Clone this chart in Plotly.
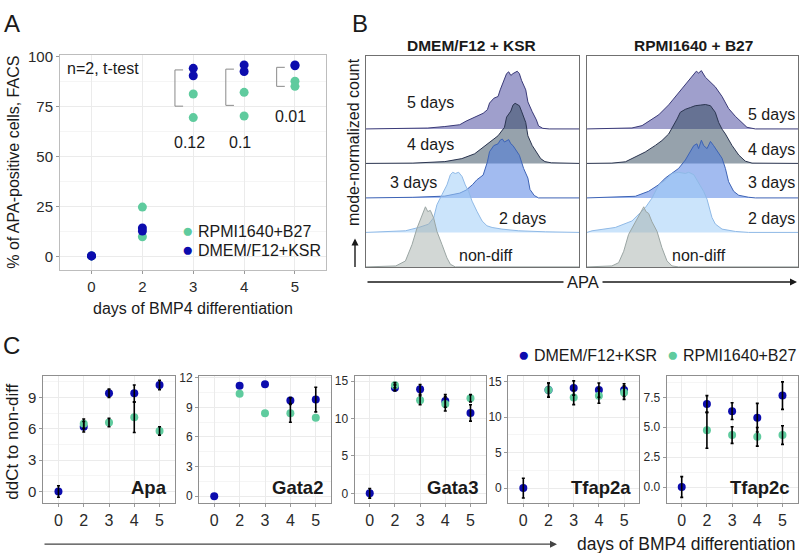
import numpy as np
import plotly.graph_objects as go

W, H = 800, 553
FONT = 'Liberation Sans, Arial, Helvetica, sans-serif'
INK = '#1a1a1a'
BLUE = '#0c0cae'
GREEN = '#5fcb9e'

# ---------------- A: % APA-positive cells (FACS), two replicates per day
days_a = ['0', '0', '2', '2', '3', '3', '4', '4', '5', '5']
dmem_a = [0.3, 0.3, 14.3, 12.7, 94.0, 90.3, 95.7, 92.4, 95.7, 95.3]
rpmi_a = [0.3, 0.3, 24.7, 9.9, 81.2, 69.4, 82.0, 70.2, 87.6, 85.0]
pval_days = ['3', '4', '5']
pval_text = ['0.12', '0.1', '0.01']
bracket_top = [93.2, 93.6, 94.5]
bracket_bottom = [75.1, 75.5, 85.0]

# ---------------- B: APA histograms, mode-normalized count (% of mode)
rows_b = ['non-diff', '2 days', '3 days', '4 days', '5 days']

dmem_nd_x = [0, 6, 14, 18.5, 21.6, 23.9, 26.3, 27.9, 29, 30.2, 31.8, 33.3, 35.7, 38, 39.6, 41.9, 100]
dmem_nd_y = [0, 0.5, 1.6, 9.8, 37, 64, 86, 100, 92, 94, 81, 59, 37, 15, 4.4, 0, 0]
dmem_2d_x = [0, 13.8, 18.5, 24.7, 29.4, 31.8, 33.3, 35.7, 38, 39.6, 40.7, 41.9, 43.5, 45.1, 46.6, 48.2,
             49.8, 52.1, 54.5, 56.8, 59.2, 63.8, 71.7, 84.2, 100]
dmem_2d_y = [0, 1.6, 2.7, 8.2, 13.7, 24.6, 46, 63, 79, 96, 100, 98, 100, 93, 79, 68,
             52, 35, 19, 11, 8.2, 5.5, 2.7, 1, 0]
dmem_3d_x = [0, 22, 37, 44, 47, 50, 52, 55, 57, 58, 60, 62, 63, 64, 65, 67, 68, 69, 72, 74, 76, 77, 79, 81, 100]
dmem_3d_y = [0, 1, 3, 8, 13, 22, 30, 38, 60, 77, 87, 90, 96, 98, 93, 97, 90, 87, 71, 49, 33, 14, 4, 0, 0]
dmem_4d_x = [0, 22, 37, 45, 51, 56, 59, 62, 65, 66, 68, 69, 70, 72, 73, 75, 76, 78, 80, 82, 84, 87, 100]
dmem_4d_y = [0, 0.5, 3, 8, 16, 30, 38, 46, 60, 77, 87, 97, 100, 96, 87, 68, 46, 30, 19, 8, 3, 1, 0]
dmem_5d_x = [0, 22, 29, 37, 44, 47, 51, 55, 57, 58, 60, 62, 63, 65, 66, 67, 68, 69, 71, 72, 73, 75, 76, 78,
             80, 81, 83, 86, 100]
dmem_5d_y = [0, 0.5, 1.5, 4, 7, 13, 20, 26, 32, 43, 51, 54, 65, 81, 92, 95, 89, 92, 96, 92, 81, 65, 45, 29,
             15, 5, 1, 0, 0]

rpmi_nd_x = [0, 11.8, 15, 17.4, 19.7, 22.9, 25.3, 26.9, 27.9, 29.2, 30.8, 33.2, 35.5, 37.9, 40.3, 43.4, 100]
rpmi_nd_y = [0, 1.6, 7, 26, 54, 75, 92, 100, 92, 89, 75, 59, 32, 10, 1.6, 0, 0]
rpmi_2d_x = [0, 2.4, 13.4, 21.3, 27.6, 30.8, 34, 37.1, 40.3, 43.4, 46.6, 48.2, 50.6, 52.1, 53.7, 55.3,
             56.9, 59.2, 60.8, 64, 70.3, 76.6, 100]
rpmi_2d_y = [0, 2.7, 8.2, 19, 41, 57, 79, 87, 98, 100, 98, 100, 96, 87, 79, 68,
             55, 25, 14, 5.5, 1.6, 0, 0]
rpmi_3d_x = [0, 22.9, 29.2, 34, 37.1, 40.3, 43.4, 46.6, 49, 50.6, 52.1, 52.9, 54.2, 55.3, 56.9, 58.5,
             60, 61.6, 64, 65.6, 67.1, 69.5, 71.9, 76.6, 79.8, 100]
rpmi_3d_y = [0, 2.7, 11, 22, 33, 41, 49, 63, 77, 87, 90, 82, 96, 87, 82, 94,
             87, 79, 66, 49, 27, 11, 4.4, 1.1, 0, 0]
rpmi_4d_x = [0, 11.8, 18.2, 22.9, 27.6, 32.4, 35.5, 38.7, 41.1, 42.7, 44.2, 46.6, 49, 51.3, 53.7, 56.1,
             58.5, 60.8, 62.4, 64, 65.6, 68.7, 71.9, 75, 78.2, 100]
rpmi_4d_y = [0, 0.5, 2.7, 11, 19, 30, 38, 49, 63, 74, 85, 90, 93, 96, 97, 98,
             96, 85, 68, 57, 49, 30, 14, 3.8, 0.5, 0]
rpmi_5d_x = [0, 16.6, 21.3, 26.1, 29.2, 34, 38.7, 41.9, 45, 48.2, 50.6, 51.8, 52.9, 54.2, 56.1, 58.5,
             60.8, 64, 67.1, 70.3, 73.5, 75.8, 79.8, 100]
rpmi_5d_y = [0, 0.5, 1.6, 5.5, 12.6, 23.5, 40, 54, 67, 81, 92, 96, 93, 97, 86, 78,
             70, 54, 34, 21, 10, 2.7, 0, 0]

# ---------------- C: qPCR ddCt to non-diff (mean, sd; None = no visible bar)
days_c = ['0', '2', '3', '4', '5']
genes = ['Apa', 'Gata2', 'Gata3', 'Tfap2a', 'Tfap2c']

apa_dmem = [0, 6.2, 9.4, 9.4, 10.2]
apa_dmem_sd = [0.55, 0.5, 0.4, 0.8, 0.45]
apa_rpmi = [None, 6.5, 6.6, 7.1, 5.8]
apa_rpmi_sd = [None, 0.45, 0.4, 1.45, 0.4]

gata2_dmem = [0, 11.2, 11.35, 9.7, 9.8]
gata2_dmem_sd = [None, None, None, 0.3, 1.25]
gata2_rpmi = [None, 10.4, 8.4, 8.4, 7.95]
gata2_rpmi_sd = [None, None, None, 0.9, None]

gata3_dmem = [0, 14.1, 13.9, 12.35, 10.75]
gata3_dmem_sd = [0.65, 0.4, 0.65, 0.85, 1.1]
gata3_rpmi = [None, 14.45, 12.45, 11.95, 12.7]
gata3_rpmi_sd = [None, 0.35, 0.6, 0.95, 0.5]

tfap2a_dmem = [0, 13.8, 14.1, 13.8, 13.8]
tfap2a_dmem_sd = [1.4, 1.0, 1.0, 1.0, 0.9]
tfap2a_rpmi = [None, 13.8, 12.75, 13.0, 13.45]
tfap2a_rpmi_sd = [None, 1.0, 1.0, 1.05, 0.95]

tfap2c_dmem = [0, 6.95, 6.35, 5.8, 7.65]
tfap2c_dmem_sd = [0.87, 0.7, 0.7, 1.2, 1.15]
tfap2c_rpmi = [None, 4.75, 4.35, 4.2, 4.35]
tfap2c_rpmi_sd = [None, 1.5, 0.7, 0.78, 0.78]


def fx(p):
    return p / W


def fy(p):
    return 1 - p / H


fig = go.Figure()
annos = []
shapes = []


def note(text, x, y, size=16, **kw):
    # text placed by its centre unless told otherwise
    d = dict(text=text, x=fx(x), y=fy(y), xref='paper', yref='paper', showarrow=False,
             xanchor='center', yanchor='middle',
             font=dict(family=FONT, size=size, color=INK))
    d.update(kw)
    annos.append(d)


def dot(color):
    return '<span style="color:%s;font-size:19px">●</span>' % color


# ---- panel A
fig.add_trace(go.Scatter(x=days_a, y=rpmi_a, mode='markers', name='RPMI1640+B27',
                         marker=dict(color=GREEN, size=9), xaxis='x', yaxis='y'))
fig.add_trace(go.Scatter(x=days_a, y=dmem_a, mode='markers', name='DMEM/F12+KSR',
                         marker=dict(color=BLUE, size=9), xaxis='x', yaxis='y'))

cat_idx = {d: i for i, d in enumerate(['0', '2', '3', '4', '5'])}
for d, top, bot, txt, ty in zip(pval_days, bracket_top, bracket_bottom, pval_text, [57, 57, 70]):
    xb = cat_idx[d] - 0.36
    for y0 in (top, bot):
        shapes.append(dict(type='line', xref='x', yref='y', x0=xb, x1=xb + 0.16, y0=y0, y1=y0,
                           line=dict(color='#8a8a8a', width=1)))
    shapes.append(dict(type='line', xref='x', yref='y', x0=xb, x1=xb, y0=bot, y1=top,
                       line=dict(color='#8a8a8a', width=1)))
    annos.append(dict(text=txt, x=cat_idx[d] - 0.08, y=ty, xref='x', yref='y', showarrow=False,
                      xanchor='center', yanchor='middle',
                      font=dict(family=FONT, size=16, color=INK)))

note('n=2, t-test', 65, 61, 16, xanchor='left')
note(dot(GREEN) + ' RPMI1640+B27', 180, 226, 16, xanchor='left')
note(dot(BLUE) + ' DMEM/F12+KSR', 180, 245, 16, xanchor='left')
note('% of APA-positive cells, FACS', 14, 157, 16, textangle=-90)
note('days of BMP4 differentiation', 193, 305, 16)

# ---- panel B ridges
RIDGE = 61 / 35 / 100
ridge_fill = ['rgba(165,175,172,0.5)', 'rgba(160,205,248,0.55)', 'rgba(70,120,225,0.5)',
              'rgba(45,70,90,0.5)', 'rgba(95,95,170,0.6)']
ridge_line = ['#9aa5a3', '#8fb9e6', '#3d63b5', '#2b3550', '#3a3a78']
dmem_curves = [(dmem_nd_x, dmem_nd_y), (dmem_2d_x, dmem_2d_y), (dmem_3d_x, dmem_3d_y),
               (dmem_4d_x, dmem_4d_y), (dmem_5d_x, dmem_5d_y)]
rpmi_curves = [(rpmi_nd_x, rpmi_nd_y), (rpmi_2d_x, rpmi_2d_y), (rpmi_3d_x, rpmi_3d_y),
               (rpmi_4d_x, rpmi_4d_y), (rpmi_5d_x, rpmi_5d_y)]
for xa, ya, curves in [('x2', 'y2', dmem_curves), ('x3', 'y3', rpmi_curves)]:
    for i in reversed(range(len(rows_b))):
        cx, cy = curves[i]
        fig.add_trace(go.Scatter(x=cx, y=i + np.array(cy) * RIDGE, mode='lines', fill='toself',
                                 fillcolor=ridge_fill[i], line=dict(color=ridge_line[i], width=1),
                                 name=rows_b[i], xaxis=xa, yaxis=ya, showlegend=False,
                                 hoverinfo='skip'))

note('<b>DMEM/F12 + KSR</b>', 471, 38, 15.5)
note('<b>RPMI1640 + B27</b>', 693, 38, 15.5)
for txt, x, y in [('5 days', 430, 96), ('4 days', 430, 138), ('3 days', 414, 177),
                  ('2 days', 522, 214), ('non-diff', 486, 251)]:
    note(txt, x, y, 16)
for txt, x, y in [('5 days', 771, 108), ('4 days', 771, 144), ('3 days', 771, 177),
                  ('2 days', 771, 214), ('non-diff', 699, 251)]:
    note(txt, x, y, 16)
note('mode-normalized count', 353, 136, 16, textangle=-90)
annos.append(dict(text='', x=fx(355), y=fy(234), xref='paper', yref='paper', showarrow=True,
                  ax=0, ay=30, arrowhead=2, arrowsize=1, arrowwidth=1.4, arrowcolor=INK))
annos.append(dict(text='', x=fx(797), y=fy(278), xref='paper', yref='paper', showarrow=True,
                  ax=-431, ay=0, arrowhead=2, arrowsize=1, arrowwidth=1.4, arrowcolor=INK))
note('APA', 583, 278, 16.5, bgcolor='white', borderpad=3)

# ---- panel C
c_series = [(apa_dmem, apa_dmem_sd, apa_rpmi, apa_rpmi_sd),
            (gata2_dmem, gata2_dmem_sd, gata2_rpmi, gata2_rpmi_sd),
            (gata3_dmem, gata3_dmem_sd, gata3_rpmi, gata3_rpmi_sd),
            (tfap2a_dmem, tfap2a_dmem_sd, tfap2a_rpmi, tfap2a_rpmi_sd),
            (tfap2c_dmem, tfap2c_dmem_sd, tfap2c_rpmi, tfap2c_rpmi_sd)]
c_left = [43.3, 199, 354.6, 508.2, 666.6]
c_right = [174.7, 331, 485.6, 639.2, 797.6]
c_range = [[-1.1, 11.07], [-0.7, 12.2], [-1.3, 15.7], [-2.1, 15.8], [-1.34, 9.3]]
c_dtick = [3, 3, 5, 5, 2.5]
C_TOP, C_BOT = 373.3, 502.3

for k, (dm, dm_sd, rp, rp_sd) in enumerate(c_series):
    xa, ya = 'x%d' % (k + 4), 'y%d' % (k + 4)
    fig.add_trace(go.Scatter(x=days_c, y=dm, mode='markers', marker=dict(color=BLUE, size=8),
                             xaxis=xa, yaxis=ya, showlegend=False, name='DMEM/F12+KSR'))
    fig.add_trace(go.Scatter(x=days_c, y=rp, mode='markers', marker=dict(color=GREEN, size=8),
                             xaxis=xa, yaxis=ya, showlegend=False, name='RPMI1640+B27'))
    for y, sd in [(dm, dm_sd), (rp, rp_sd)]:
        ys = [v if e is not None else None for v, e in zip(y, sd)]
        fig.add_trace(go.Scatter(x=days_c, y=ys, mode='markers',
                                 marker=dict(color='rgba(0,0,0,0)', size=1),
                                 error_y=dict(type='data', array=sd, color='black', thickness=1.6,
                                              width=1.5),
                                 xaxis=xa, yaxis=ya, showlegend=False, hoverinfo='skip'))
    note('<b>%s</b>' % genes[k], c_right[k] - 6, 487, 18.5, xanchor='right')

note('ddCt to non-diff', 13, 440, 17, textangle=-90)
note(dot(BLUE) + ' DMEM/F12+KSR', 516, 352, 16, xanchor='left')
note(dot(GREEN) + ' RPMI1640+B27', 665, 352, 16, xanchor='left')
annos.append(dict(text='', x=fx(557), y=fy(544), xref='paper', yref='paper', showarrow=True,
                  ax=-514, ay=0, arrowhead=2, arrowsize=1, arrowwidth=1.4, arrowcolor='#444'))
note('days of BMP4 differentiation', 575, 544, 17.5, xanchor='left')

# ---- panel letters
note('A', 12, 16, 24)
note('B', 360, 16, 24)
note('C', 11, 342, 24)

# ---- axes
grid = '#ebebeb'
minor_grid = '#f5f5f5'
tick_font = dict(family=FONT, size=15, color='#2a2a2a')
layout = dict(
    width=W, height=H, margin=dict(l=0, r=0, t=0, b=0), autosize=False,
    paper_bgcolor='white', plot_bgcolor='white', showlegend=False,
    font=dict(family=FONT, color=INK),
    annotations=annos, shapes=shapes,
    xaxis=dict(domain=[fx(60), fx(325.5)], anchor='y', type='category',
               categoryorder='array', categoryarray=['0', '2', '3', '4', '5'], range=[-0.62, 4.6],
               showline=True, mirror=True, linecolor='#bdbdbd', showgrid=True, gridcolor=grid,
               ticks='outside', ticklen=3, tickcolor='#9a9a9a', tickfont=tick_font, zeroline=False),
    yaxis=dict(domain=[fy(266), fy(48)], anchor='x', range=[-6.8, 100.5],
               tickvals=[0, 25, 50, 75, 100], showline=True, mirror=True, linecolor='#bdbdbd',
               showgrid=True, gridcolor=grid, ticks='outside', ticklen=3, tickcolor='#9a9a9a',
               tickfont=tick_font, zeroline=False,
               minor=dict(tickvals=[12.5, 37.5, 62.5, 87.5], showgrid=True, gridcolor=minor_grid)),
)
b_axis = dict(range=[0, 100], showticklabels=False, showgrid=False, zeroline=False,
              showline=True, mirror=True, linecolor='#707070', ticks='')
b_yaxis = dict(range=[0, 6.126], showticklabels=False, showgrid=False, zeroline=False,
               showline=True, mirror=True, linecolor='#707070', ticks='')
layout['xaxis2'] = dict(b_axis, domain=[fx(366), fx(579)], anchor='y2')
layout['yaxis2'] = dict(b_yaxis, domain=[fy(262.7), fy(48.3)], anchor='x2')
layout['xaxis3'] = dict(b_axis, domain=[fx(587), fx(798)], anchor='y3')
layout['yaxis3'] = dict(b_yaxis, domain=[fy(262.7), fy(48.3)], anchor='x3')

for k in range(5):
    lo, hi = c_range[k]
    d = c_dtick[k]
    major = [v for v in np.arange(0, hi + 1e-9, d)]
    layout['xaxis%d' % (k + 4)] = dict(
        domain=[fx(c_left[k]), fx(c_right[k])], anchor='y%d' % (k + 4), type='category',
        categoryorder='array', categoryarray=days_c, range=[-0.6, 4.6],
        showline=True, mirror=True, linecolor='#8f8f8f', showgrid=True, gridcolor=grid,
        ticks='outside', ticklen=3, tickcolor='#9a9a9a', tickfont=dict(tick_font, size=16),
        zeroline=False)
    layout['yaxis%d' % (k + 4)] = dict(
        domain=[fy(C_BOT), fy(C_TOP)], anchor='x%d' % (k + 4), range=[lo, hi],
        tickvals=major, tickformat='.1f' if d == 2.5 else 'd',
        showline=True, mirror=True, linecolor='#8f8f8f', showgrid=True, gridcolor=grid,
        ticks='outside', ticklen=3, tickcolor='#9a9a9a',
        tickfont=dict(tick_font, size=15 if k == 0 else 12), zeroline=False,
        minor=dict(tickvals=[v + d / 2 for v in major], showgrid=True, gridcolor=minor_grid))

fig.update_layout(**layout)
# drop the default page margin so the 800x553 figure fills the window exactly
fig.write_html('out.html', config={'displayModeBar': False},
               post_script="document.body.style.margin='0';")
